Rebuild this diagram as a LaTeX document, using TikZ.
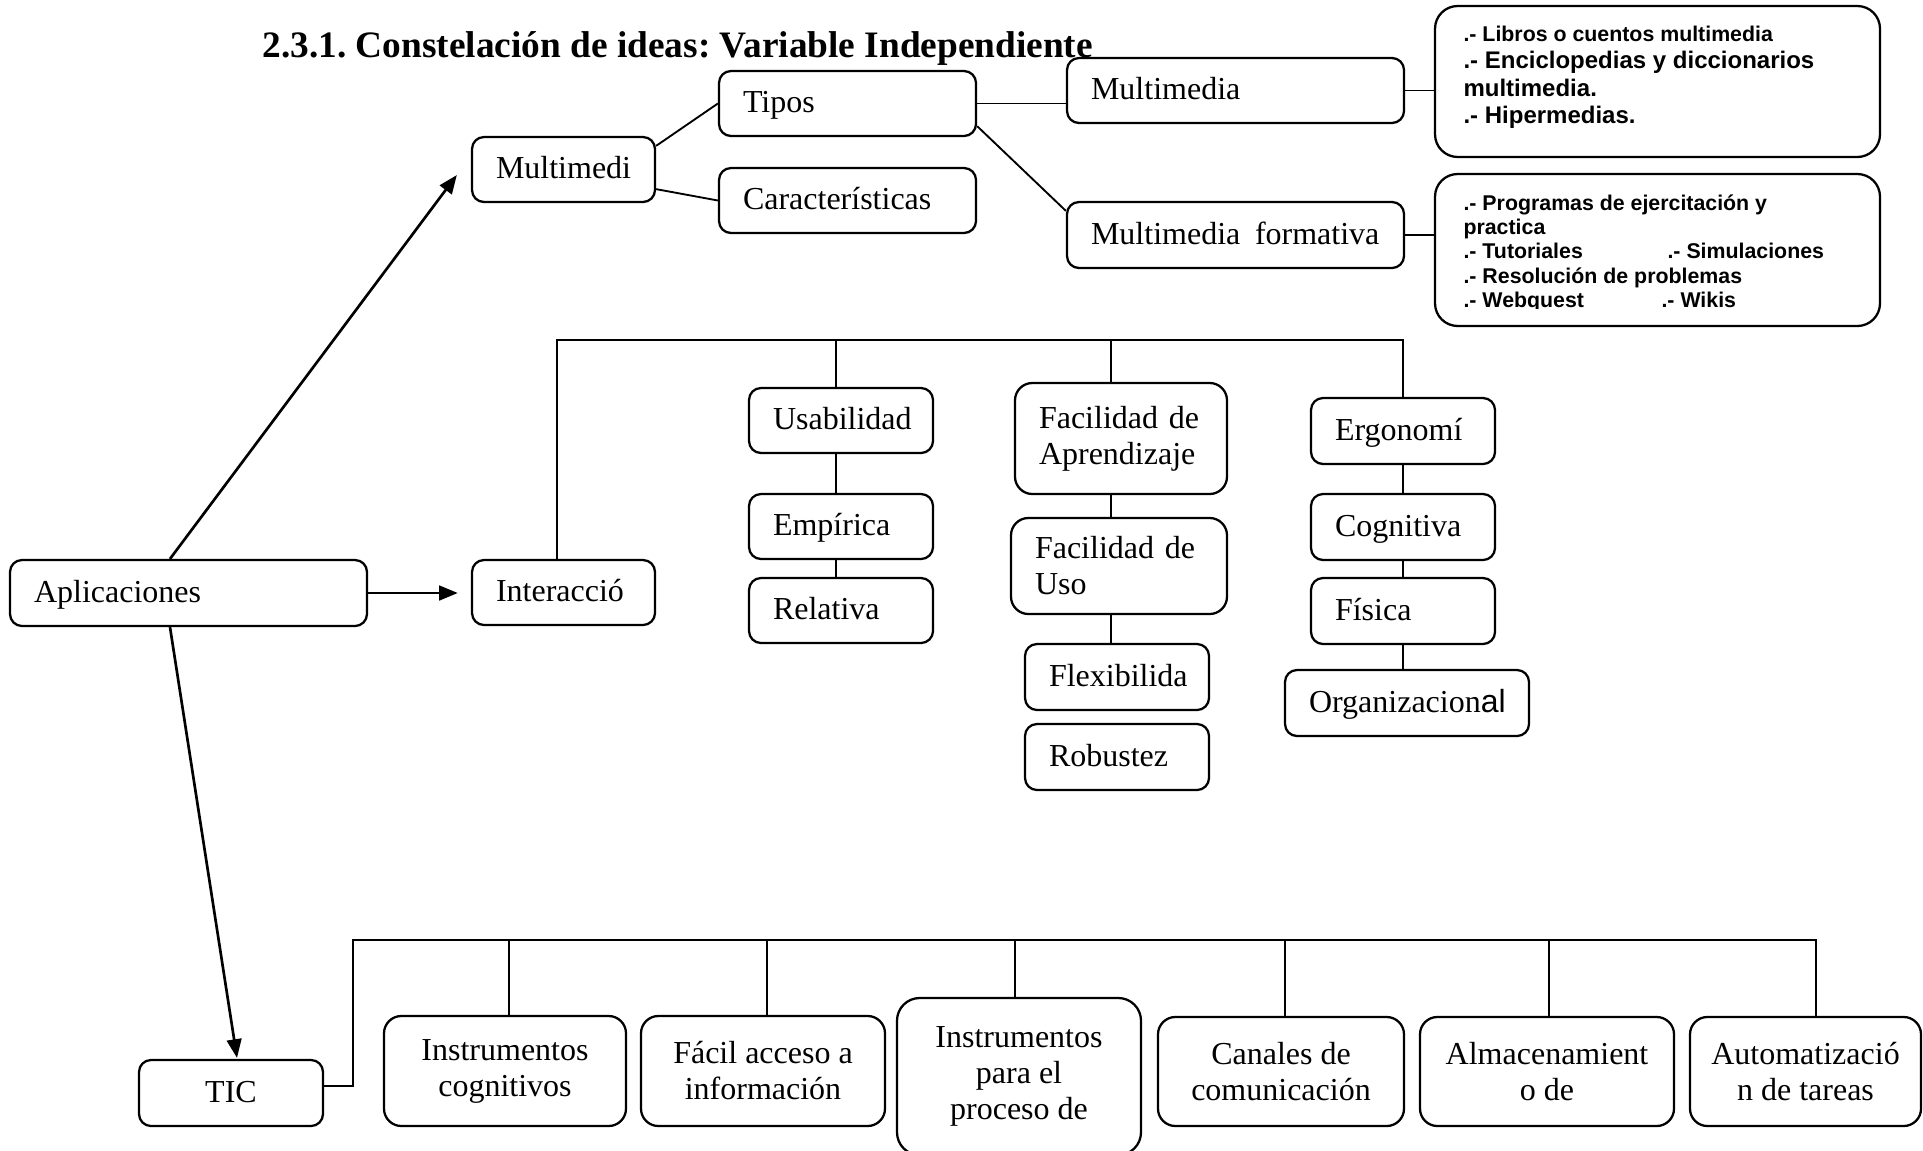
\documentclass[tikz,border=0pt]{standalone}
\usepackage{fontspec}
\setmainfont{Liberation Serif}
\setsansfont{Liberation Sans}
\usetikzlibrary{arrows.meta,calc}
\frenchspacing

% A box given by its two corners (pixel units of the picture grid)
\newcommand\ideabox[7][lft,oneline]{%
  \pgfmathsetlengthmacro\bxw{(#5-#3)*0.375pt}%
  \pgfmathsetlengthmacro\bxh{(#6-#4)*0.375pt}%
  \pgfmathsetlengthmacro\bxt{(#5-#3-48)*0.375pt}%
  \node[box,minimum width=\bxw,minimum height=\bxh,#1] (#2) at ({(#3+#5)/2},{(#4+#6)/2}) {#7};}

\begin{document}
\begin{tikzpicture}[x=0.375pt,y=-0.375pt,
  box/.style={draw,line width=0.85pt,rounded corners=4.5pt,inner sep=0pt,
    font=\fontsize{12}{13.5}\selectfont},
  lft/.style={text width=\bxt,align=left},
  ctr/.style={align=center},
  oneline/.style={text height=9.5pt,text depth=2.5pt},
  conn/.style={line width=0.7pt},
  bar/.style={line width=0.85pt,line cap=rect},
  drop/.style={line width=0.55pt},
  arr/.style={line width=1pt,-{Triangle[length=7pt,width=5.5pt]}},
  lineA/.style={font=\sffamily\bfseries\fontsize{8}{9.6}\selectfont,inner sep=0pt,anchor=base west},
  lineB/.style={font=\sffamily\bfseries\fontsize{9}{10.8}\selectfont,inner sep=0pt,anchor=base west}]
\useasboundingbox[fill=white] (0,0) rectangle (1923,1150);

% title
\node[anchor=base west,inner sep=0pt,font=\bfseries\fontsize{14}{16}\selectfont] (title) at (262,57)
  {2.3.1. Constelación de ideas: Variable Independiente};

% upper branch: multimedia
\ideabox{mm}{472}{137}{655}{202}{Multimedi}
\ideabox{tipos}{719}{71}{976}{136}{Tipos}
\ideabox{car}{719}{168}{976}{233}{Características}
\ideabox{mmd}{1067}{58}{1404}{123}{Multimedia}
\ideabox{mf}{1067}{202}{1404}{268}{\mbox{Multimedia\hspace{5.5pt}formativa}}
\ideabox[rounded corners=8.5pt]{b1}{1435}{6}{1880}{157}{}
\ideabox[rounded corners=8.5pt]{b2}{1435}{174}{1880}{326}{}

\node[lineA] (b1l1) at (1463,41.5) {.- Libros o cuentos multimedia};
\node[lineB] (b1l2) at (1463,68.5) {.- Enciclopedias y diccionarios};
\node[lineB] (b1l3) at (1463,96) {multimedia.};
\node[lineB] (b1l4) at (1463,123.5) {.- Hipermedias.};

\node[lineA] (b2l1) at (1463,210) {.- Programas de ejercitación y};
\node[lineA] (b2l2) at (1463,234) {practica};
\node[lineA] (b2l3) at (1463,258.5) {.- Tutoriales};
\node[lineA] (b2l3b) at (1667,258.5) {.- Simulaciones};
\node[lineA] (b2l4) at (1463,283) {.- Resolución de problemas};
\begin{scope}
  \clip (1440,290) rectangle (1875,308.5);
  \node[lineA] (b2l5) at (1463,307.5) {.- Webquest};
  \node[lineA] (b2l5b) at (1661,307.5) {.- Wikis};
\end{scope}

% middle branch: interaction
\ideabox{apl}{10}{560}{367}{626}{Aplicaciones}
\ideabox{inter}{472}{560}{655}{625}{Interacció}
\ideabox{usab}{749}{388}{933}{453}{Usabilidad}
\ideabox{emp}{749}{494}{933}{559}{Empírica}
\ideabox{rel}{749}{578}{933}{643}{Relativa}
\ideabox[lft,rounded corners=6.5pt]{fa}{1015}{383}{1227}{494}{Facilidad de\\Aprendizaje}
\ideabox[lft,rounded corners=6.5pt]{fu}{1011}{518}{1227}{614}{Facilidad de\\Uso}
\ideabox{flex}{1025}{644}{1209}{710}{Flexibilida}
\ideabox{rob}{1025}{724}{1209}{790}{Robustez}
\ideabox{erg}{1311}{398}{1495}{464}{Ergonomí}
\ideabox{cog}{1311}{494}{1495}{560}{Cognitiva}
\ideabox{fis}{1311}{578}{1495}{644}{Física}
\ideabox{org}{1285}{670}{1529}{736}{Organizacion{\sffamily al}}

% lower branch: TIC
\ideabox[ctr,oneline]{tic}{139}{1060}{323}{1126}{TIC}
\ideabox[ctr,rounded corners=6.5pt]{ic}{384}{1016}{626}{1126}{Instrumentos\\cognitivos}
\ideabox[ctr,rounded corners=6.5pt]{fac}{641}{1016}{885}{1126}{Fácil acceso a\\información}
\ideabox[ctr,rounded corners=8.5pt]{ipp}{897}{998}{1141}{1155}{Instrumentos\\para el\\proceso de}
\ideabox[ctr,rounded corners=6.5pt]{can}{1158}{1017}{1404}{1126}{Canales de\\comunicación}
\ideabox[ctr,rounded corners=6.5pt]{alm}{1420}{1017}{1674}{1126}{Almacenamient\\o de}
\ideabox[ctr,rounded corners=6.5pt]{aut}{1690}{1017}{1921}{1126}{Automatizació\\n de tareas}

% arrows out of Aplicaciones
\draw[arr] ($(apl.north)+(-18.5,0)$) -- ($(mm.west)+(-14,5.5)$);
\draw[arr,shorten >=4.9pt] (apl.east) -- (apl.east -| inter.west);
\draw[arr] ($(apl.south)+(-18.5,0)$) -- ($(tic.north)+(6,-1)$);

% multimedia connectors
\draw[conn] ($(mm.north east)+(0,10)$) -- (tipos.west);
\draw[conn] ($(mm.south east)+(0,-14)$) -- (car.west);
\draw[conn] (tipos.east) -- (tipos.east -| mmd.west);
\draw[conn] ($(tipos.south east)+(0,-11)$) -- ($(mf.north west)+(0,10)$);
\draw[conn] (mmd.east) -- (mmd.east -| b1.west);
\draw[conn] (mf.east) -- (mf.east -| b2.west);

% interaction bracket
\coordinate (ib) at (557,340);
\coordinate (d1) at (836,340);
\coordinate (d2) at (1111,340);
\draw[drop] (inter.north -| ib) -- (ib);
\draw[bar] (ib) -- (ib -| erg.north);
\draw[drop] (d1) -- (d1 |- usab.north);
\draw[drop] (d2) -- (d2 |- fa.north);
\draw[drop] (ib -| erg.north) -- (erg.north);
\draw[drop] (d1 |- usab.south) -- (d1 |- emp.north);
\draw[drop] (d1 |- emp.south) -- (d1 |- rel.north);
\draw[drop] (d2 |- fa.south) -- (d2 |- fu.north);
\draw[drop] (d2 |- fu.south) -- (d2 |- flex.north);
\draw[drop] (erg.south) -- (cog.north);
\draw[drop] (cog.south) -- (fis.north);
\draw[drop] (fis.south) -- (fis.south |- org.north);

% TIC bracket
\coordinate (tb) at (353,940);
\coordinate (t1) at (509,940);
\coordinate (t2) at (767,940);
\coordinate (t3) at (1015,940);
\coordinate (t4) at (1285,940);
\coordinate (t5) at (1549,940);
\coordinate (t6) at (1816,940);
\draw[bar] ($(tic.east)+(0,-7)$) -- ($(tic.east -| tb)+(0,-7)$) -- (tb) -- (t6);
\draw[drop] (t1) -- (t1 |- ic.north);
\draw[drop] (t2) -- (t2 |- fac.north);
\draw[drop] (t3) -- (t3 |- ipp.north);
\draw[drop] (t4) -- (t4 |- can.north);
\draw[drop] (t5) -- (t5 |- alm.north);
\draw[drop] (t6) -- (t6 |- aut.north);
\end{tikzpicture}
\end{document}
